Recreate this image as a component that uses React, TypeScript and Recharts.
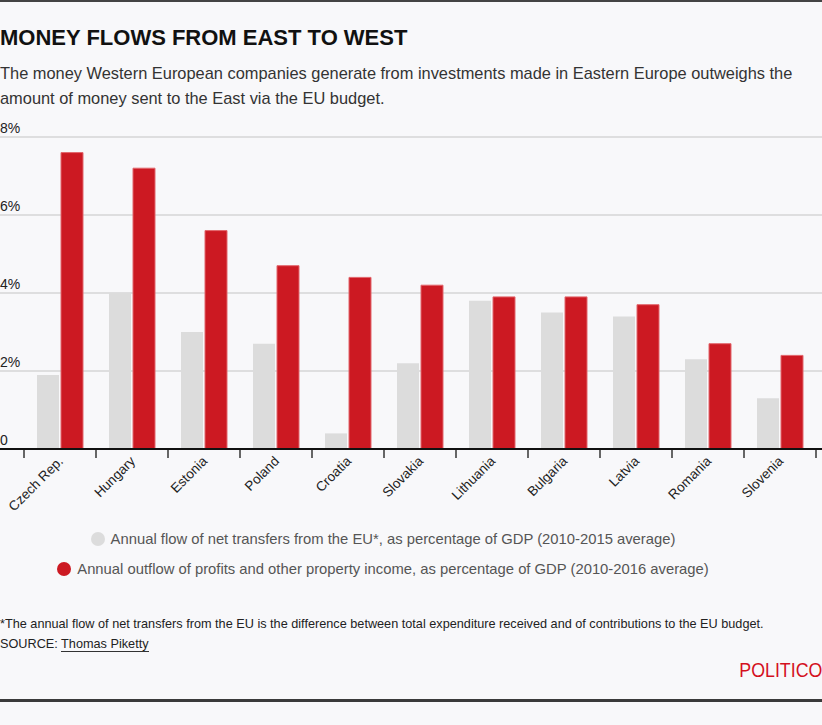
import { BarChart, Bar, XAxis, YAxis, CartesianGrid } from 'recharts'

const countries = ['Czech Rep.', 'Hungary', 'Estonia', 'Poland', 'Croatia', 'Slovakia', 'Lithuania', 'Bulgaria', 'Latvia', 'Romania', 'Slovenia']
const netTransfers = [1.9, 4.0, 3.0, 2.7, 0.4, 2.2, 3.8, 3.5, 3.4, 2.3, 1.3]
const profitOutflow = [7.6, 7.2, 5.6, 4.7, 4.4, 4.2, 3.9, 3.9, 3.7, 2.7, 2.4]
const yTicks = [0, 2, 4, 6, 8]

const seriesNames = {
  transfers: 'Annual flow of net transfers from the EU*, as percentage of GDP (2010-2015 average)',
  outflow: 'Annual outflow of profits and other property income, as percentage of GDP (2010-2016 average)',
}

const GRAY = '#dcdcdc'
const RED = '#cc1922'
const FONT = '"Liberation Sans", Arial, sans-serif'

const data = countries.map((country, i) => ({
  country,
  transfers: netTransfers[i],
  outflow: profitOutflow[i],
}))

// label at the band centre, small tick marks on the band edges (payload.offset = half band)
const CountryTick = (props: any) => {
  const { x, y, payload, index } = props
  const half = payload.offset || 0
  const last = index === countries.length - 1
  return (
    <g>
      <line x1={x - half} x2={x - half} y1={y + 1} y2={y + 9} stroke="#666" strokeWidth={2} />
      {last && <line x1={x + half} x2={x + half} y1={y + 1} y2={y + 9} stroke="#666" strokeWidth={2} />}
      <text transform={`translate(${x + 4},${y + 13}) rotate(-45)`} textAnchor="end" fontSize={13.5} fill="#222" fontFamily={FONT}>
        {payload.value}
      </text>
    </g>
  )
}

const PctTick = (props: any) => {
  const { y, payload } = props
  return (
    <text x={0} y={y - 4} fontSize={14} fill="#222" fontFamily={FONT}>
      {payload.value === 0 ? '0' : `${payload.value}%`}
    </text>
  )
}

const Dot = ({ color }: { color: string }) => (
  <span style={{ display: 'inline-block', width: 14, height: 14, borderRadius: 7, background: color, marginRight: 6 }} />
)

export default function App() {
  return (
    <div style={{ position: 'relative', width: 822, height: 725, background: '#f8f8fa', fontFamily: FONT, overflow: 'hidden' }}>
      <style>{'body{margin:0}'}</style>
      <div style={{ position: 'absolute', top: 0, left: 0, width: 822, height: 2, background: '#444' }} />

      <div style={{ position: 'absolute', top: 25, left: 0, fontSize: 22, lineHeight: '26px', fontWeight: 700, color: '#111' }}>
        MONEY FLOWS FROM EAST TO WEST
      </div>
      <div style={{ position: 'absolute', top: 61, left: 0, width: 815, fontSize: 16.4, lineHeight: '25px', color: '#333' }}>
        The money Western European companies generate from investments made in Eastern Europe outweighs the amount of money sent to the East via the EU budget.
      </div>

      <div style={{ position: 'absolute', top: 120, left: 0 }}>
        <BarChart width={822} height={400} data={data} margin={{ top: 17, right: 0, bottom: 0, left: -1 }} barCategoryGap={13} barGap={2}>
          <CartesianGrid vertical={false} stroke="#d6d6d6" strokeWidth={1.5} />
          <XAxis
            dataKey="country"
            padding={{ left: 24, right: 6 }}
            height={71}
            interval={0}
            tickLine={false}
            tickSize={0}
            tickMargin={0}
            axisLine={{ stroke: '#111', strokeWidth: 2 }}
            tick={<CountryTick />}
          />
          <YAxis width={1} domain={[0, 8]} ticks={yTicks} axisLine={false} tickLine={false} tick={<PctTick />} />
          <Bar dataKey="transfers" name={seriesNames.transfers} fill={GRAY} isAnimationActive={false} />
          <Bar dataKey="outflow" name={seriesNames.outflow} fill={RED} stroke="#e2666c" strokeWidth={1} isAnimationActive={false} />
        </BarChart>
      </div>

      <div style={{ position: 'absolute', top: 529, left: 0, width: 766, fontSize: 14.8, color: '#555', lineHeight: '20px' }}>
        <div style={{ display: 'flex', alignItems: 'center', justifyContent: 'center' }}>
          <Dot color={GRAY} />
          {seriesNames.transfers}
        </div>
        <div style={{ display: 'flex', alignItems: 'center', justifyContent: 'center', marginTop: 10 }}>
          <Dot color={RED} />
          {seriesNames.outflow}
        </div>
      </div>

      <div style={{ position: 'absolute', top: 614, left: 0, fontSize: 12.7, lineHeight: '20px', color: '#222' }}>
        <div>*The annual flow of net transfers from the EU is the difference between total expenditure received and of contributions to the EU budget.</div>
        <div>
          SOURCE: <span style={{ borderBottom: '1px solid #333' }}>Thomas Piketty</span>
        </div>
      </div>

      <div style={{ position: 'absolute', top: 658, right: 0, fontSize: 20, lineHeight: '24px', color: '#d4111e', transform: 'scaleX(0.89)', transformOrigin: 'right center' }}>
        POLITICO
      </div>
      <div style={{ position: 'absolute', top: 699, left: 0, width: 822, height: 3, background: '#3a3a3a' }} />
    </div>
  )
}
